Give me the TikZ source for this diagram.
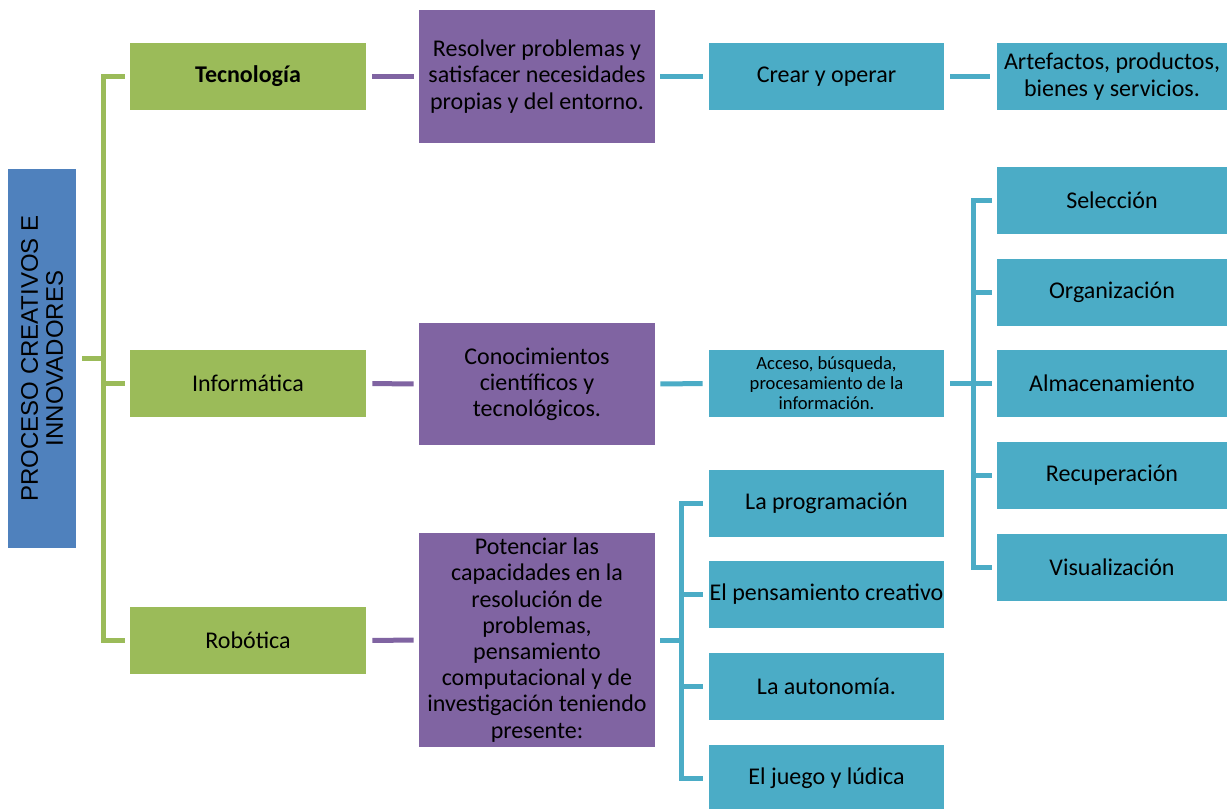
\documentclass[tikz,border=0pt]{standalone}
\usepackage{fontspec}
\setmainfont{Carlito}
\newfontfamily\arialfont{Liberation Sans}
\definecolor{blu}{HTML}{4F81BD}
\definecolor{grn}{HTML}{9BBB59}
\definecolor{prp}{HTML}{8064A2}
\definecolor{tea}{HTML}{4BACC6}
\begin{document}
\begin{tikzpicture}[x=0.5pt,y=-0.5pt,
  box/.style={inner sep=0pt,align=center,text=black,font=\fontsize{12}{13.1}\selectfont},
  gbox/.style={box,fill=grn,minimum width=118pt,minimum height=33.5pt},
  pbox/.style={box,fill=prp,minimum width=118pt},
  tbox/.style={box,fill=tea,minimum width=117.5pt,minimum height=33.5pt},
  rbox/.style={box,fill=tea,minimum width=115pt,minimum height=33.5pt},
  gline/.style={draw=grn,line width=2.5pt},
  pline/.style={draw=prp,line width=2.5pt,shorten <=3pt,shorten >=2.5pt},
  tline/.style={draw=tea,line width=2.5pt}]
\useasboundingbox (0,0) rectangle (1227,809);

% Root
\node[box,fill=blu,rotate=90,minimum width=189.5pt,minimum height=34pt,
  font=\arialfont\fontsize{12}{12.5}\selectfont] (proc) at (42,358.5)
  {PROCESO CREATIVOS E\\INNOVADORES};

% Areas
\node[gbox,font=\bfseries\fontsize{12}{13.1}\selectfont] (tec) at (248,76.5) {Tecnología};
\node[gbox] (inf) at (248,383.5) {Informática};
\node[gbox] (rob) at (248,640.5) {Robótica};

% Purposes
\node[pbox,minimum height=66.5pt] (res) at (537,76.5)
  {Resolver problemas y\\satisfacer necesidades\\propias y del entorno.};
\node[pbox,minimum height=61pt] (con) at (537,384)
  {Conocimientos\\científicos y\\tecnológicos.};
\node[pbox,minimum height=107pt] (pot) at (537,640)
  {Potenciar las\\capacidades en la\\resolución de\\problemas,\\pensamiento\\computacional y de\\investigación teniendo\\presente:};

% Green tree
\coordinate (gtrunk) at (103,358.5);
\draw[gline] ([xshift=-2.5pt]tec.west) -| (gtrunk) |- ([xshift=-2.5pt]rob.west);
\draw[gline] (gtrunk |- inf) -- ([xshift=-2.5pt]inf.west);
\draw[gline] ([xshift=3pt]proc.south) -- (gtrunk);

% Purple links
\draw[pline] (tec.east) -- (res.west);
\draw[pline] (inf.east) -- (con.west);
\draw[pline] (rob.east) -- (pot.west);

% Tecnologia branch
\node[tbox] (cre) at (826.5,76.5) {Crear y operar};
\node[rbox] (art) at (1112,76.5) {Artefactos, productos,\\bienes y servicios.};
\draw[tline,shorten <=2.5pt,shorten >=3pt] (res.east) -- (cre.west);
\draw[tline,shorten <=3pt,shorten >=3.5pt] (cre.east) -- (art.west);

% Informatica branch
\node[tbox,font=\fontsize{9.3}{10}\selectfont] (acc) at (826.5,383.5)
  {Acceso, búsqueda,\\procesamiento de la\\información.};
\draw[tline,shorten <=2.5pt,shorten >=3pt] (con.east) -- (acc.west);
\coordinate (itrunk) at (973,383.5);
\foreach \n/\y/\t in {sel/200.5/Selección,org/292.5/Organización,alm/383.5/Almacenamiento,
  rec/475.5/Recuperación,vis/567.5/Visualización} {
  \node[rbox] (\n) at (1112,\y) {\t};
}
\draw[tline] ([xshift=-2.5pt]sel.west) -| (itrunk) |- ([xshift=-2.5pt]vis.west);
\foreach \n in {org,alm,rec} {
  \draw[tline] (itrunk |- \n) -- ([xshift=-2.5pt]\n.west);
}
\draw[tline,shorten <=3pt] (acc.east) -- (itrunk);

% Robotica branch
\coordinate (rtrunk) at (681,640);
\foreach \n/\y/\t in {prg/503/La programación,pen/594.5/El pensamiento creativo,
  aut/686/La autonomía.,jue/778/El juego y lúdica} {
  \node[tbox] (\n) at (826.5,\y) {\t};
}
\draw[tline] ([xshift=-3pt]prg.west) -| (rtrunk) |- ([xshift=-3pt]jue.west);
\foreach \n in {pen,aut} {
  \draw[tline] (rtrunk |- \n) -- ([xshift=-3pt]\n.west);
}
\draw[tline,shorten <=2.5pt] (pot.east) -- (rtrunk);

\end{tikzpicture}
\end{document}
